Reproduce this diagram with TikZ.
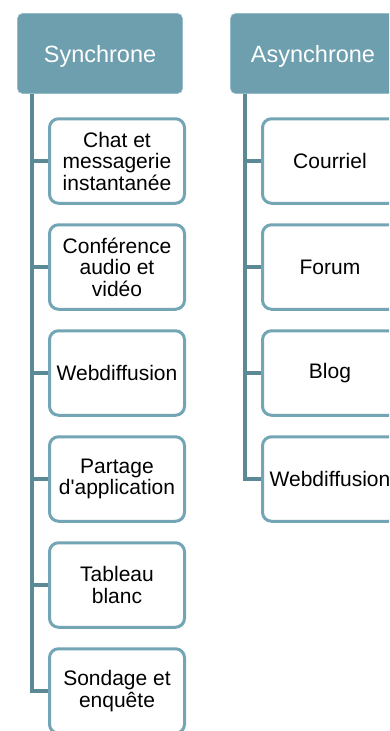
\documentclass[tikz,border=0pt]{standalone}
\usepackage{fontspec}
\setmainfont{Liberation Sans}
\definecolor{headfill}{RGB}{109,159,175}
\definecolor{headedge}{RGB}{150,190,202}
\definecolor{linkcol}{RGB}{92,137,150}
\definecolor{boxedge}{RGB}{115,165,180}
\tikzset{
  header/.style={rectangle, rounded corners=5pt, fill=headfill, draw=headedge,
    line width=0.6pt, minimum width=165pt, minimum height=80pt,
    text=white, font=\fontsize{23.5}{26}\selectfont, inner sep=0pt},
  headtext/.style={text=white, font=\fontsize{23.5}{26}\selectfont, inner sep=0pt},
  itembox/.style={rectangle, rounded corners=9pt, fill=white, draw=boxedge,
    line width=3pt, minimum width=135pt, minimum height=84.5pt,
    align=center, text=black, font=\fontsize{21}{21.5}\selectfont, inner sep=0pt},
  link/.style={draw=linkcol, line width=3.5pt},
}
\begin{document}
\begin{tikzpicture}[x=1pt,y=-1pt]
\useasboundingbox (0,0) rectangle (389,731);
\clip (0,0) rectangle (389,731);

% column headers (label set slightly below the centre of the tab)
\node[header] (sync) at (100,53.5) {};
\node[headtext] (syncLabel) at (100,56) {Synchrone};
\node[header] (async) at (313,53.5) {};
\node[headtext] (asyncLabel) at (313,56) {Asynchrone};

% synchronous tools
\node[itembox] (s1) at (117,161) {Chat et\\messagerie\\instantanée};
\node[itembox] (s2) at (117,267) {Conférence\\audio et\\vidéo};
\node[itembox] (s3) at (117,373) {Webdiffusion};
\node[itembox] (s4) at (117,479) {Partage\\d\textquotesingle application};
\node[itembox] (s5) at (117,585) {Tableau\\blanc};
\node[itembox] (s6) at (117,691) {Sondage et\\enquête};

% asynchronous tools
\node[itembox] (a1) at (330,161) {Courriel};
\node[itembox] (a2) at (330,267) {Forum};
\node[itembox] (a3) at (330,373) {Blog};
\node[itembox] (a4) at (330,479) {Webdiffusion};

% tree connectors, synchronous column
\coordinate (sTop) at (32,94);
\coordinate (sEnd) at (32,691);
\draw[link] (sTop) -- (sEnd) -- (s6.west);
\foreach \n in {s1,s2,s3,s4,s5}
  \draw[link] (sTop |- \n.west) -- (\n.west);

% tree connectors, asynchronous column
\coordinate (aTop) at (245,94);
\coordinate (aEnd) at (245,479);
\draw[link] (aTop) -- (aEnd) -- (a4.west);
\foreach \n in {a1,a2,a3}
  \draw[link] (aTop |- \n.west) -- (\n.west);
\end{tikzpicture}
\end{document}
